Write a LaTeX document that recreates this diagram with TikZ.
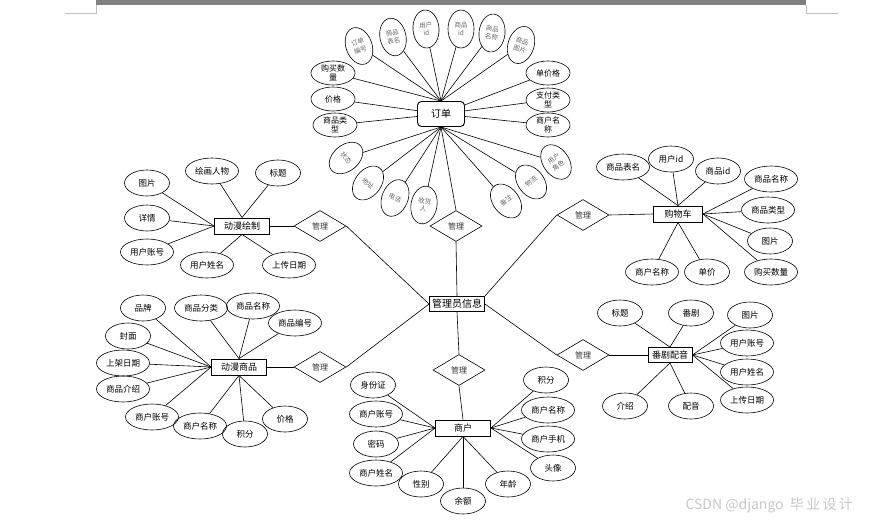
\documentclass[tikz,border=0pt]{standalone}
\usepackage{fontspec}
\setmainfont{Noto Sans CJK SC}
\usetikzlibrary{shapes.geometric}
\begin{document}
\begin{tikzpicture}[x=1pt,y=-1pt,
  attr/.style={draw,ellipse,line width=0.6pt,inner sep=0pt,minimum width=45pt,minimum height=26pt,font=\fontsize{8.5}{10}\selectfont,align=center},
  attrw/.style={attr,minimum width=53pt},
  attrs/.style={attr,minimum width=44pt,minimum height=24pt,font=\fontsize{8}{9.5}\selectfont},
  tilt/.style={draw,ellipse,line width=0.6pt,inner sep=0pt,minimum width=26pt,minimum height=38pt,font=\fontsize{6.5}{8}\selectfont,text=black!60,align=center},
  entity/.style={draw,line width=0.9pt,minimum width=55pt,minimum height=16pt,inner sep=0pt,font=\fontsize{9}{10}\selectfont},
  rel/.style={draw,diamond,line width=0.6pt,minimum width=52pt,minimum height=31pt,inner sep=0pt,font=\fontsize{8}{10}\selectfont,text=black!80},
  link/.style={line width=0.6pt}]
\useasboundingbox (0,0) rectangle (874,520);

\fill[black!50] (96,0) rectangle (806,5);
\draw[black!25] (65,13) -- (96,13) -- (96,5);
\draw[black!25] (838,13) -- (806,13) -- (806,5);

% order
\node[entity,rounded corners=4pt,minimum width=47pt,minimum height=25pt,font=\fontsize{10}{12}\selectfont] (dd) at (441,114) {订单};
\node[tilt,rotate=20] (dd-bh) at (359,46) {订单\\编号};
\node[tilt,rotate=12] (dd-bm) at (393,37) {商品\\表名};
\node[tilt,rotate=4] (dd-yh) at (426,29) {用户\\id};
\node[tilt] (dd-sp) at (461,29) {商品\\id};
\node[tilt,rotate=-6] (dd-mc) at (492,33) {商品\\名称};
\node[tilt,rotate=-18] (dd-tp) at (521,45) {商品\\图片};
\node[tilt,rotate=-50] (dd-zt) at (346,158) {状态};
\node[tilt,rotate=-38] (dd-dz) at (368,183) {地址};
\node[tilt,rotate=-22] (dd-dh) at (395,198) {电话};
\node[tilt,rotate=-10] (dd-shr) at (424,205) {收货\\人};
\node[tilt,rotate=38] (dd-bz) at (506,201) {备注};
\node[tilt,rotate=38] (dd-wl) at (531,182) {物流};
\node[tilt,rotate=35] (dd-js) at (556,162) {用户\\角色};
\node[attrs] (dd-gm) at (333,73) {购买数\\量};
\node[attrs] (dd-jg) at (333,99) {价格};
\node[attrs] (dd-lx) at (335,125) {商品类\\型};
\node[attrs] (dd-zj) at (548,73) {单价格};
\node[attrs] (dd-zf) at (548,100) {支付类\\型};
\node[attrs] (dd-shm) at (548,125) {商户名\\称};
\foreach \a in {bh,bm,yh,sp,mc,tp,gm}
  \draw[link] (dd-\a) -- (dd.north);
\foreach \a in {zt,dz,dh,shr,bz,wl,js}
  \draw[link] (dd-\a) -- (dd.south);
\foreach \a in {jg,lx,zj,zf,shm}
  \draw[link] (dd-\a) -- (dd);

% admin and relations
\node[entity,font=\fontsize{10}{12}\selectfont,minimum height=15pt] (gly) at (457,304) {管理员信息};
\node[rel] (r1) at (456,226) {管理};
\node[rel] (r2) at (320,226) {管理};
\node[rel] (r3) at (320,367) {管理};
\node[rel] (r4) at (459,370) {管理};
\node[rel] (r5) at (583,355) {管理};
\node[rel] (r6) at (583,215) {管理};
\draw[link] (dd.south) -- (r1.north);
\draw[link] (r1.south) -- (gly.north);
\draw[link] (r2.east) -- (gly.west);
\draw[link] (r3.east) -- (gly.west);
\draw[link] (gly.south) -- (r4.north);
\draw[link] (gly.east) -- (r5.west);
\draw[link] (gly.north east) -- (r6.west);

% drawing
\node[entity] (dm) at (242,226) {动漫绘制};
\node[attr] (dm-tp) at (147,183) {图片};
\node[attrw] (dm-rw) at (212,171) {绘画人物};
\node[attr] (dm-bt) at (278,173) {标题};
\node[attr] (dm-xq) at (147,218) {详情};
\node[attrw] (dm-zh) at (147,252) {用户账号};
\node[attrw] (dm-xm) at (207,265) {用户姓名};
\node[attrw] (dm-rq) at (289,265) {上传日期};
\foreach \a in {tp,xq,zh}
  \draw[link] (dm-\a) -- (dm.west);
\foreach \a in {rw,bt}
  \draw[link] (dm-\a) -- (dm.north);
\foreach \a in {xm,rq}
  \draw[link] (dm-\a) -- (dm.south);
\draw[link] (dm.east) -- (r2.west);

% goods
\node[entity] (sp) at (239,367) {动漫商品};
\node[attr] (sp-pp) at (143,308) {品牌};
\node[attrw] (sp-fl) at (201,308) {商品分类};
\node[attrw] (sp-mc) at (253,306) {商品名称};
\node[attrw] (sp-bh) at (295,323) {商品编号};
\node[attr] (sp-fm) at (128,336) {封面};
\node[attrw] (sp-rq) at (123,363) {上架日期};
\node[attrw] (sp-js) at (123,389) {商品介绍};
\node[attrw] (sp-zh) at (152,417) {商户账号};
\node[attrw] (sp-shm) at (200,426) {商户名称};
\node[attr] (sp-jf) at (245,434) {积分};
\node[attr] (sp-jg) at (285,419) {价格};
\foreach \a in {pp,fm,rq,js,zh}
  \draw[link] (sp-\a) -- (sp.west);
\foreach \a in {fl,mc,bh}
  \draw[link] (sp-\a) -- (sp.north);
\foreach \a in {shm,jf,jg}
  \draw[link] (sp-\a) -- (sp.south);
\draw[link] (sp.east) -- (r3.west);

% merchant
\node[entity] (sh) at (463,428) {商户};
\node[attr] (sh-sfz) at (373,385) {身份证};
\node[attrw] (sh-zh) at (376,414) {商户账号};
\node[attr] (sh-mm) at (376,444) {密码};
\node[attrw] (sh-xm) at (376,473) {商户姓名};
\node[attr] (sh-xb) at (421,484) {性别};
\node[attr] (sh-ye) at (463,501) {余额};
\node[attr] (sh-nl) at (508,484) {年龄};
\node[attr] (sh-tx) at (553,468) {头像};
\node[attrw] (sh-sj) at (548,439) {商户手机};
\node[attrw] (sh-mc) at (548,410) {商户名称};
\node[attr] (sh-jf) at (546,380) {积分};
\foreach \a in {sfz,zh,mm,xm}
  \draw[link] (sh-\a) -- (sh.west);
\foreach \a in {xb,ye,nl}
  \draw[link] (sh-\a) -- (sh.south);
\foreach \a in {tx,sj,mc,jf}
  \draw[link] (sh-\a) -- (sh.east);
\draw[link] (r4.south) -- (sh.north);

% dubbing
\node[entity,minimum width=44pt,minimum height=15pt] (fj) at (670,355) {番剧配音};
\node[attr] (fj-bt) at (620,313) {标题};
\node[attr] (fj-fj) at (691,313) {番剧};
\node[attr] (fj-tp) at (750,315) {图片};
\node[attrw] (fj-zh) at (747,343) {用户账号};
\node[attrw] (fj-xm) at (747,372) {用户姓名};
\node[attrw] (fj-rq) at (747,400) {上传日期};
\node[attr] (fj-js) at (625,406) {介绍};
\node[attr] (fj-py) at (691,406) {配音};
\foreach \a in {bt,fj}
  \draw[link] (fj-\a) -- (fj.north);
\foreach \a in {tp,zh,xm,rq}
  \draw[link] (fj-\a) -- (fj.east);
\foreach \a in {js,py}
  \draw[link] (fj-\a) -- (fj.south);
\draw[link] (r5.east) -- (fj.west);

% cart
\node[entity,minimum width=49pt] (gw) at (678,214) {购物车};
\node[attrw] (gw-bm) at (623,167) {商品表名};
\node[attr] (gw-yh) at (671,159) {用户id};
\node[attr] (gw-sp) at (718,171) {商品id};
\node[attrw] (gw-mc) at (771,179) {商品名称};
\node[attrw] (gw-lx) at (768,210) {商品类型};
\node[attr] (gw-tp) at (770,241) {图片};
\node[attrw] (gw-sl) at (771,272) {购买数量};
\node[attrw] (gw-shm) at (652,272) {商户名称};
\node[attr] (gw-dj) at (707,272) {单价};
\foreach \a in {bm,yh,sp}
  \draw[link] (gw-\a) -- (gw.north);
\foreach \a in {mc,lx,tp,sl}
  \draw[link] (gw-\a) -- (gw.east);
\foreach \a in {shm,dj}
  \draw[link] (gw-\a) -- (gw.south);
\draw[link] (r6.east) -- (gw.west);

\node[anchor=west,text=black!22,font=\fontsize{14}{16}\selectfont] (wm) at (682,505) {CSDN @django\ \ 毕\,业\,设\,计};
\end{tikzpicture}
\end{document}
